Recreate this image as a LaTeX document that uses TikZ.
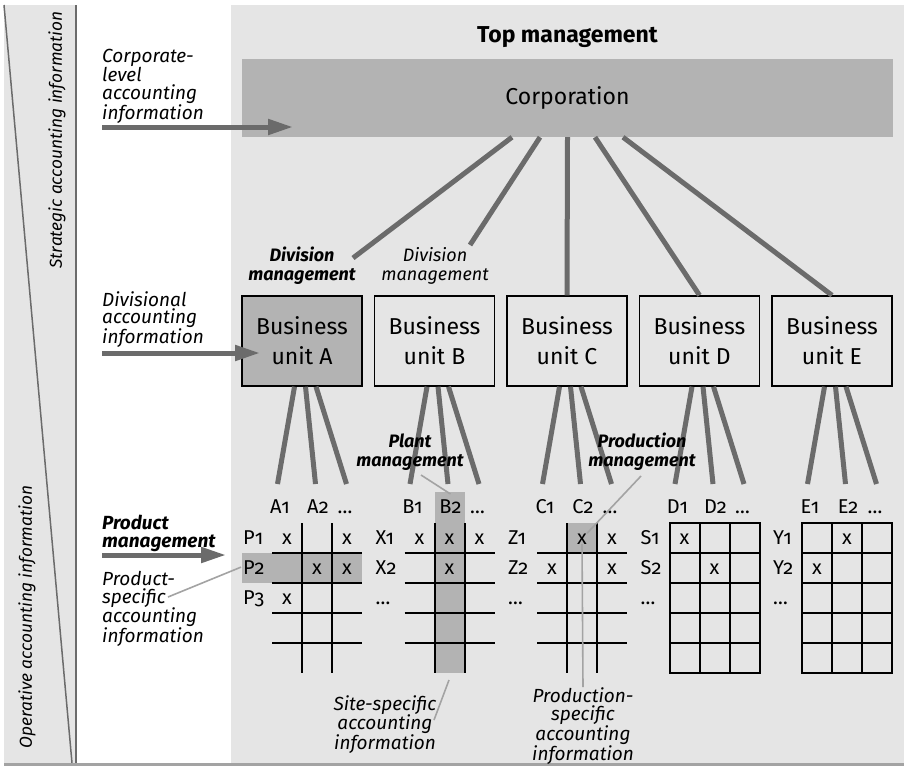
\documentclass[tikz,border=0pt]{standalone}
\usepackage{fontspec}
\setmainfont{Fira Sans}[Numbers=OldStyle]
\usetikzlibrary{arrows.meta}
\definecolor{bg}{HTML}{E5E5E5}
\definecolor{mid}{HTML}{B3B3B3}
\definecolor{dk}{HTML}{6B6B6B}
\definecolor{lt}{HTML}{A3A3A3}
\begin{document}
\begin{tikzpicture}[x=1pt,y=-1pt,
  conn/.style={draw=dk,line width=5pt},
  ptr/.style={draw=lt,line width=1.6pt},
  bigarrow/.style={draw=dk,line width=5pt,-{Triangle[length=25pt,width=15pt]}},
  gridline/.style={draw=black,line width=2pt},
  unitbox/.style={draw=black,line width=1.4pt,minimum width=120pt,minimum height=90pt,align=center,inner sep=0pt,font=\fontsize{23}{30}\selectfont},
  cell/.style={font=\fontsize{20}{24}\selectfont,anchor=base,inner sep=0pt},
  rowlab/.style={font=\fontsize{20}{24}\selectfont,anchor=base west,inner sep=0pt},
  side/.style={font=\fontsize{19}{17.6}\selectfont\itshape,align=left,anchor=north west,inner sep=0pt},
  mgmt/.style={font=\fontsize{18}{19}\selectfont\bfseries\itshape,align=center,inner sep=0pt},
  note/.style={font=\fontsize{19}{18.8}\selectfont\itshape,align=center,anchor=north,inner sep=0pt},
  vtitle/.style={rotate=90,inner sep=0pt,font=\fontsize{17.3}{20}\selectfont\itshape}
]
\useasboundingbox (0,0) rectangle (904,766);
\fill[white] (0,0) rectangle (904,766);
\fill[bg] (4,5) rectangle (75,763);
\fill[bg] (231,5) rectangle (904,763);
\draw[draw=dk,line width=1.5pt] (4,5) -- (72,763);
\draw[draw=dk,line width=2pt] (75.5,5) -- (75.5,763);
\draw[draw=lt,line width=2.5pt] (4,764.5) -- (904,764.5);

% rotated side titles
\node[vtitle] (strat) at (57,140) {Strategic accounting information};
\node[vtitle] (oper) at (27,617) {Operative accounting information};

% top
\node[font=\fontsize{23}{26}\selectfont\bfseries] (top) at (567.5,37) {Top management};
\node[fill=mid,minimum width=651pt,minimum height=78pt,inner sep=0pt,font=\fontsize{23}{26}\selectfont] (corp) at (567.5,98) {Corporation};

% business units
\node[unitbox,fill=mid] (uA) at (302,341) {Business\\unit A};
\foreach \u/\c in {B/434.5,C/567,D/699.5,E/832}{
  \node[unitbox] (u\u) at (\c,341) {Business\\unit \u};
}

% division management labels
\node[mgmt] (dmA) at (302,266) {Division\\management};
\node[mgmt,font=\fontsize{18}{19}\selectfont\itshape] (dmB) at (435,266) {Division\\management};
\coordinate (eDA) at (353,258);
\coordinate (eDB) at (470,245);
\draw[conn] ([xshift=-55.5pt]corp.south) -- (eDA);
\draw[conn] ([xshift=-27.5pt]corp.south) -- (eDB);
\draw[conn] (corp.south) -- (uC.north);
\draw[conn] ([xshift=27.5pt]corp.south) -- (uD.north);
\draw[conn] ([xshift=55.5pt]corp.south) -- (uE.north);

% highlights
\fill[mid] (242,553) rectangle (362,583);
\fill[mid] (434.5,492) rectangle (464.5,673);
\fill[mid] (567,523) rectangle (597,553);

% grids
\foreach \u/\c/\closed in {A/302/0,B/434.5/0,C/567/0,D/699.5/1,E/832/1}{
  \pgfmathsetmacro{\gx}{\c-30}
  \foreach \yy in {553,583,613,643}{\draw[gridline] (\gx,\yy) -- ({\gx+90},\yy);}
  \foreach \xx in {30,60}{\draw[gridline] ({\gx+\xx},523) -- ({\gx+\xx},673);}
  \ifnum\closed=1 \draw[gridline] (\gx,523) rectangle ({\gx+90},673);\fi
}

% row labels
\foreach \u/\c/\la/\lb/\lc in {A/302/P1/P2/P3,B/434.5/X1/X2/\ldots,C/567/Z1/Z2/\ldots,D/699.5/S1/S2/\ldots,E/832/Y1/Y2/\ldots}{
  \node[rowlab] (r\u1) at ({\c-59},544) {\la};
  \node[rowlab] (r\u2) at ({\c-59},574) {\lb};
  \node[rowlab] (r\u3) at ({\c-59},604) {\lc};
}

% column labels and connectors from units
\foreach \u/\c in {A/302,B/434.5,C/567,D/699.5,E/832}{
  \node[cell] (l\u1) at ({\c-22},513) {\u1};
  \node[cell] (l\u2) at ({\c+16},513) {\u2};
  \node[cell] (l\u3) at ({\c+43},513) {\ldots};
  \coordinate (e\u1) at ({\c-24.5},484);
  \coordinate (e\u2) at ({\c+13.5},484);
  \coordinate (e\u3) at ({\c+44.5},484);
  \draw[conn] ([xshift=-7.5pt]u\u.south) -- (e\u1);
  \draw[conn] ([xshift=3.5pt]u\u.south) -- (e\u2);
  \draw[conn] ([xshift=14pt]u\u.south) -- (e\u3);
}

% marks
\foreach \u/\c/\marks in {A/302/{0/1,2/1,1/2,2/2,0/3},B/434.5/{0/1,1/1,2/1,1/2},C/567/{1/1,2/1,0/2,2/2},D/699.5/{0/1,1/2},E/832/{1/1,0/2}}{
  \foreach \j/\r in \marks {
    \node[cell] (m\u\j\r) at ({\c-15+30*\j},{514+30*\r}) {x};
  }
}

% left side texts and arrows
\node[side] (corpinfo) at (102,49) {Corporate-\\level\\accounting\\information};
\coordinate (aCs) at (102,127);
\coordinate (aCe) at (293,127);
\draw[bigarrow] (aCs) -- (aCe);
\node[side] (divinfo) at (102,291) {Divisional\\accounting\\information};
\coordinate (aDs) at (102,353);
\coordinate (aDe) at (260,353);
\draw[bigarrow] (aDs) -- (aDe);
\node[side,font=\fontsize{19}{17.6}\selectfont\bfseries\itshape] (prodmgmt) at (102,515) {Product\\management};
\coordinate (aPs) at (102,555);
\coordinate (aPe) at (226,555);
\draw[bigarrow] (aPs) -- (aPe);
\node[side] (prodinfo) at (102,571) {Product-\\specific\\accounting\\information};
\coordinate (pp1) at (168,597);
\draw[ptr] (pp1) -- ([xshift=-2pt]rA2.west);

% management labels in grid area
\node[mgmt] (plant) at (410,452) {Plant\\management};
\coordinate (pl1) at (421,475);
\draw[ptr] (pl1) -- ([yshift=5pt]lB2.north);
\node[mgmt] (prodm) at (642,452) {Production\\management};
\coordinate (pm1) at (641,476);
\draw[ptr] (pm1) -- (mC11.north east);

% bottom notes
\node[note] (site) at (385,695) {Site-specific\\accounting\\information};
\coordinate (st1) at (434,720);
\coordinate (st2) at (449,680);
\draw[ptr] (st1) -- (st2);
\node[note] (prodspec) at (583,687) {Production-\\specific\\accounting\\information};
\draw[ptr] (mC11.south) -- (prodspec.north);
\end{tikzpicture}
\end{document}
